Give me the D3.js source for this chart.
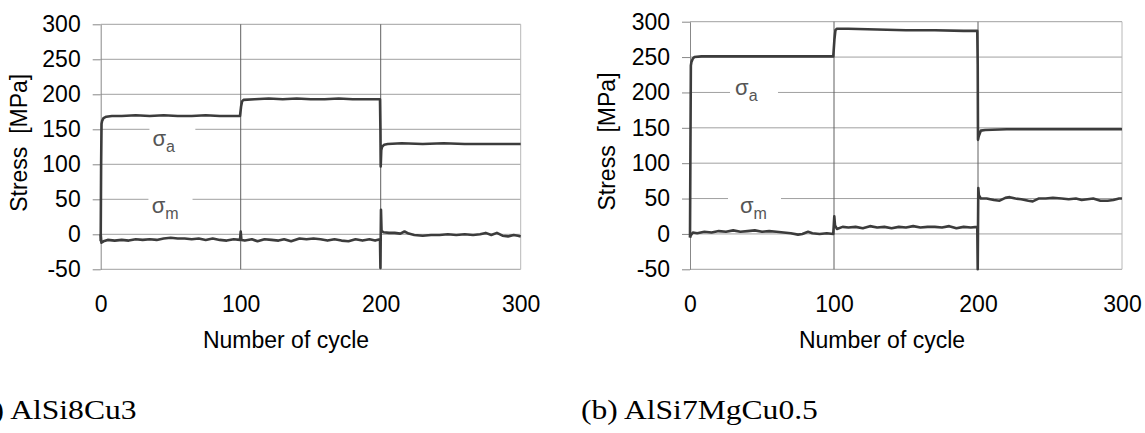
<!DOCTYPE html>
<html>
<head>
<meta charset="utf-8">
<script src="https://cdn.jsdelivr.net/npm/d3@7"></script>
<style>
  body { margin: 0; background: #fff; }
  svg { display: block; font-family: "Liberation Sans", Arial, sans-serif; }
</style>
</head>
<body>
<div id="graph"></div>
<script>
// tick values and texts
var xTicks = [0, 100, 200, 300];
var yTicks = [-50, 0, 50, 100, 150, 200, 250, 300];
var xTitle = "Number of cycle";
var yTitle = "Stress  [MPa]";
var captions = ["(a) AlSi8Cu3", "(b) AlSi7MgCu0.5"];

// (a) AlSi8Cu3 : [cycle, stress MPa]
var ampA = [[0, -10], [0.3, 100], [0.6, 158], [1, 162], [2, 166], [4, 168], [8, 169], [15, 169], [25, 170],
  [35, 169], [45, 170], [55, 169], [65, 169], [75, 170], [85, 169], [95, 169], [99.5, 169], [100.3, 183],
  [101, 190], [102, 192], [110, 193], [120, 194], [130, 193], [140, 194], [150, 193], [160, 193], [170, 194],
  [180, 193], [190, 193], [199.5, 193], [199.8, 150], [200, 97], [200.4, 120], [201, 125], [202.5, 128],
  [205, 129], [215, 130], [230, 129], [245, 130], [260, 129], [275, 129], [290, 129], [300, 129]];
var meanA = [[0, 0], [0.5, -12], [2, -10], [5, -8], [10, -9], [15, -8], [20, -9], [25, -7], [30, -8], [35, -7],
  [40, -8], [45, -6], [50, -5], [55, -6], [60, -6], [65, -7], [70, -6], [75, -8], [80, -6], [85, -8], [90, -9],
  [95, -7], [99.5, -8], [100, 4], [100.5, -8], [103, -9], [108, -7], [112, -10], [117, -7], [122, -8], [127, -9],
  [131, -7], [136, -10], [142, -6], [147, -7], [152, -6], [157, -7], [162, -9], [167, -7], [172, -9], [177, -10],
  [182, -7], [187, -9], [192, -7], [196, -9], [199.5, -7], [199.8, -48], [200.2, 35], [200.6, 5], [202, 3],
  [206, 2], [210, 2], [214, 1], [217, 4], [220, 1], [224, -1], [230, -2], [236, -1], [242, -1], [248, 0],
  [254, -1], [260, 0], [266, -1], [271, 0], [275, 2], [279, -1], [283, 2], [287, -2], [291, -3], [295, -1],
  [298, -2], [300, -3]];

// (b) AlSi7MgCu0.5
var ampB = [[0, -5], [0.3, 120], [0.6, 238], [1, 243], [2, 248], [3, 250], [8, 251], [20, 251], [40, 251],
  [60, 251], [80, 251], [99.5, 251], [100.3, 275], [101, 288], [102, 290], [110, 290], [130, 289], [150, 288],
  [170, 288], [190, 287], [199.5, 287], [199.8, 240], [200, 133], [200.5, 138], [202, 146], [205, 147],
  [220, 148], [240, 148], [260, 148], [280, 148], [300, 148]];
var meanB = [[0, -5], [0.5, -2], [2, 2], [5, 1], [10, 3], [15, 2], [20, 4], [25, 3], [30, 5], [35, 3], [40, 4],
  [45, 5], [50, 3], [55, 4], [60, 3], [65, 2], [70, 1], [75, -1], [78, 0], [82, 3], [85, 1], [90, 0], [95, 1],
  [99.5, 0], [100.2, 25], [100.7, 12], [102, 7], [106, 10], [110, 9], [115, 10], [120, 8], [125, 11], [130, 9],
  [135, 10], [140, 8], [145, 10], [150, 9], [155, 11], [160, 9], [165, 10], [170, 10], [175, 9], [180, 11],
  [185, 8], [190, 10], [195, 9], [199.5, 10], [199.8, -50], [200.2, 65], [200.6, 55], [202, 50], [206, 50],
  [211, 48], [215, 47], [219, 51], [222, 52], [226, 50], [230, 49], [235, 47], [238, 46], [242, 50], [247, 50],
  [252, 51], [258, 50], [263, 49], [268, 50], [272, 48], [276, 49], [280, 50], [285, 47], [290, 47], [294, 48],
  [298, 50], [300, 50]];

var W = 1145, H = 433;

// layout of the two panels; label boxes are in data units
var panels = [
  { amp: ampA, mean: meanA, caption: captions[0],
    left: 100.7, right: 520.7, top: 24.3, bottom: 269.3,
    titleX: 286, yTitleX: 27, captionX: -31,
    labels: [
      { sub: "a", x: 37, y: 126, box: [34.8, 67.6, 157, 120] },
      { sub: "m", x: 36.4, y: 30.4, box: [34.1, 65.6, 57, 38] }
    ] },
  { amp: ampB, mean: meanB, caption: captions[1],
    left: 690, right: 1122, top: 21.7, bottom: 269.3,
    titleX: 882, yTitleX: 615, captionX: 581,
    labels: [
      { sub: "a", x: 31.3, y: 196.3, box: [27.8, 61.1, 215, 184] },
      { sub: "m", x: 34.7, y: 29.5, box: [26.4, 63.2, 57, 38] }
    ] }
];

var svg = d3.select("#graph").append("svg")
  .attr("width", W)
  .attr("height", H);

panels.forEach(function(p) {
  var x = d3.scaleLinear().domain([0, 300]).range([p.left, p.right]);
  var y = d3.scaleLinear().domain([-50, 300]).range([p.bottom, p.top]);
  var g = svg.append("g");

  // horizontal grid
  g.selectAll(".hgrid").data(yTicks).enter().append("line")
    .attr("x1", x(0)).attr("x2", x(300))
    .attr("y1", function(d) { return y(d); })
    .attr("y2", function(d) { return y(d); })
    .attr("stroke", "#a0a0a0").attr("stroke-width", 1);

  // vertical grid
  g.selectAll(".vgrid").data(xTicks.slice(1)).enter().append("line")
    .attr("x1", function(d) { return x(d); })
    .attr("x2", function(d) { return x(d); })
    .attr("y1", y(-50)).attr("y2", y(300))
    .attr("stroke", function(d) { return d === 300 ? "#b8b8b8" : "#606060"; })
    .attr("stroke-width", 1);

  // label boxes break the grid
  p.labels.forEach(function(l) {
    g.append("rect")
      .attr("x", x(l.box[0])).attr("width", x(l.box[1]) - x(l.box[0]))
      .attr("y", y(l.box[2])).attr("height", y(l.box[3]) - y(l.box[2]))
      .attr("fill", "#fff");
  });

  // y axis
  var ya = g.append("g")
    .attr("transform", "translate(" + x(0) + ",0)")
    .call(d3.axisLeft(y).tickValues(yTicks).tickFormat(function(d) { return String(d); })
      .tickSize(8).tickSizeOuter(0).tickPadding(12));
  ya.select(".domain").attr("stroke", "#888");
  ya.selectAll(".tick line").attr("stroke", "#888");
  ya.selectAll("text").attr("font-size", 23).attr("font-family", "Liberation Sans, Arial, sans-serif").attr("fill", "#000");

  // x axis labels only
  var xa = g.append("g")
    .attr("transform", "translate(0," + y(-50) + ")")
    .call(d3.axisBottom(x).tickValues(xTicks).tickFormat(function(d) { return String(d); })
      .tickSize(0).tickPadding(26));
  xa.select(".domain").remove();
  xa.selectAll("text").attr("font-size", 23).attr("font-family", "Liberation Sans, Arial, sans-serif").attr("fill", "#000");

  // series
  var line = d3.line()
    .x(function(d) { return x(d[0]); })
    .y(function(d) { return y(d[1]); });
  [p.mean, p.amp].forEach(function(s) {
    g.append("path")
      .datum(s)
      .attr("fill", "none")
      .attr("stroke", "#3c3c3c")
      .attr("stroke-width", 2.6)
      .attr("stroke-linejoin", "round")
      .attr("d", line);
  });

  // sigma labels
  p.labels.forEach(function(l) {
    var t = g.append("text")
      .attr("x", x(l.x)).attr("y", y(l.y))
      .attr("fill", "#555").attr("font-size", 22)
      .text("σ");
    t.append("tspan").attr("dy", 6).attr("font-size", 16).text(l.sub);
  });

  // axis titles
  g.append("text")
    .attr("x", p.titleX).attr("y", 348)
    .attr("text-anchor", "middle")
    .attr("font-size", 23)
    .text(xTitle);
  g.append("text")
    .attr("transform", "translate(" + p.yTitleX + "," + ((p.top + p.bottom) / 2 - 4) + ") rotate(-90)")
    .attr("text-anchor", "middle")
    .attr("font-size", 23)
    .style("white-space", "pre")
    .text(yTitle);

  // caption, a little wider than the serif font
  g.append("text")
    .attr("transform", "translate(" + p.captionX + ",419) scale(1.17,1)")
    .attr("font-family", "Liberation Serif, Times New Roman, serif")
    .attr("font-size", 27)
    .text(p.caption);
});
</script>
</body>
</html>
